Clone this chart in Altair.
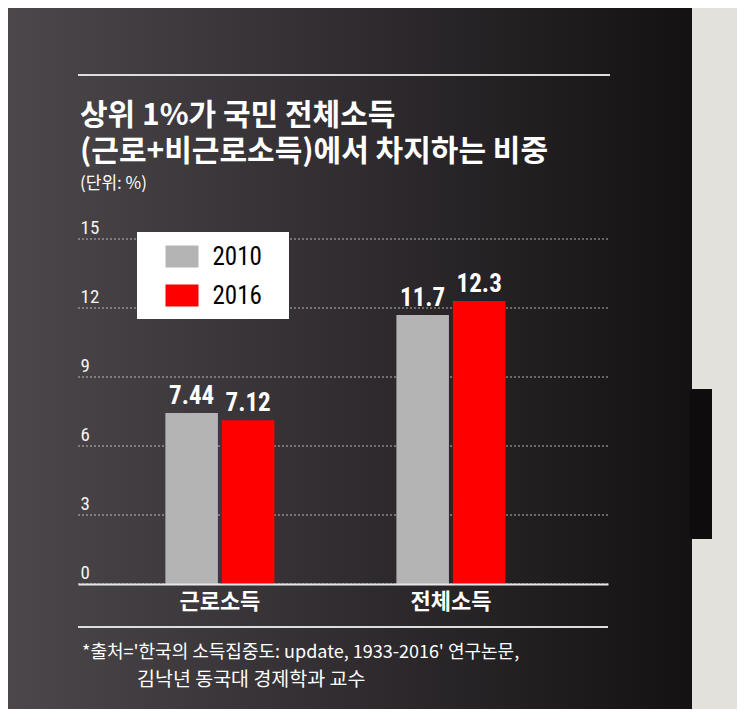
import altair as alt
import pandas as pd

# ---- data ----
categories = ["근로소득", "전체소득"]
years = ["2010", "2016"]
values_2010 = [7.44, 11.7]
values_2016 = [7.12, 12.3]
labels_2010 = ["7.44", "11.7"]
labels_2016 = ["7.12", "12.3"]
y_ticks = [0, 3, 6, 9, 12, 15]

title_lines = ["상위 1%가 국민 전체소득", "(근로+비근로소득)에서 차지하는 비중"]
unit_text = "(단위: %)"
source_line1 = "*출처='한국의 소득집중도: update, 1933-2016' 연구논문,"
source_line2 = "김낙년 동국대 경제학과 교수"

rows = []
for i, c in enumerate(categories):
    rows.append({"category": c, "year": years[0], "value": values_2010[i], "label": labels_2010[i]})
    rows.append({"category": c, "year": years[1], "value": values_2016[i], "label": labels_2016[i]})
df = pd.DataFrame(rows)
ticks_df = pd.DataFrame({"value": y_ticks})
one = pd.DataFrame({"a": [0]})

KR = "Noto Sans CJK KR"
NARROW = "Liberation Sans Narrow, Roboto Condensed, Noto Sans CJK KR, sans-serif"
W, H = 530, 345

yscale = alt.Scale(domain=[0, 15], nice=False)
yaxis = alt.Axis(title=None, values=y_ticks, grid=False, domain=False, ticks=False,
                 tickSize=0, labelAlign="left", labelPadding=-2, labelBaseline="bottom",
                 labelOffset=-2, labelFontSize=19, labelColor="#f4f4f4",
                 labelFont=NARROW, zindex=1)
xscale = alt.Scale(domain=categories, paddingInner=0.528, paddingOuter=0.411, align=0.46)
xoff_scale = alt.Scale(domain=years, paddingInner=0.07)

# ---- decorations ----
bg = alt.Chart(one).mark_rect(
    fill=alt.LinearGradient(
        gradient="linear", x1=0, x2=1, y1=0, y2=0,
        stops=[alt.GradientStop(color="#4c484b", offset=0),
               alt.GradientStop(color="#332f32", offset=0.45),
               alt.GradientStop(color="#141113", offset=1)]
    )
).encode(x=alt.value(-80), x2=alt.value(620), y=alt.value(-240), y2=alt.value(480))

light = alt.Chart(one).mark_rect(color="#e2e1dc").encode(
    x=alt.value(614), x2=alt.value(700), y=alt.value(-240), y2=alt.value(480))
bulge = alt.Chart(one).mark_rect(color="#0f0c0e").encode(
    x=alt.value(612), x2=alt.value(634), y=alt.value(150), y2=alt.value(300))

top_rule = alt.Chart(one).mark_rule(color="#dddddd", strokeWidth=2).encode(
    x=alt.value(0), x2=alt.value(532), y=alt.value(-164))
bottom_rule = alt.Chart(one).mark_rule(color="#dddddd", strokeWidth=2).encode(
    x=alt.value(0), x2=alt.value(W), y=alt.value(388))

grid = alt.Chart(ticks_df).mark_rule(color="#d0d0d0", strokeWidth=1, strokeDash=[2, 2], opacity=0.85).encode(
    y=alt.Y("value:Q", scale=yscale, axis=yaxis),
    x=alt.value(0), x2=alt.value(W))

legend_box = alt.Chart(one).mark_rect(color="white").encode(
    x=alt.value(59), x2=alt.value(211), y=alt.value(-7), y2=alt.value(80))

# ---- bars ----
base = alt.Chart(df).encode(
    x=alt.X("category:N", scale=xscale, sort=categories,
            axis=alt.Axis(title=None, labelAngle=0, domain=True, domainColor="#e8e8e8",
                          domainWidth=2, ticks=False, labelFontSize=22, labelFontWeight="bold",
                          labelColor="white", labelFont=KR, labelPadding=7, zindex=1)),
    xOffset=alt.XOffset("year:N", scale=xoff_scale, sort=years),
    y=alt.Y("value:Q", scale=yscale, axis=yaxis),
)

bars = base.mark_bar().encode(
    color=alt.Color("year:N", scale=alt.Scale(domain=years, range=["#b4b4b4", "#ff0000"]),
                    legend=alt.Legend(title=None, orient="none", legendX=59, legendY=-7,
                                      direction="vertical", padding=12, rowPadding=13,
                                      symbolType="M-1.5,-1L1.5,-1L1.5,1L-1.5,1Z",
                                      symbolSize=484, symbolStrokeWidth=0, symbolOffset=20.5,
                                      labelOffset=18, labelFontSize=25, labelColor="black",
                                      labelFont=NARROW, zindex=1))
)

value_text = base.mark_text(dy=-4, baseline="bottom", fontSize=25, color="white",
                            font=NARROW, fontWeight="bold").encode(text="label:N")

# ---- texts ----
def txt(s, x, y, size, weight="normal"):
    return alt.Chart(pd.DataFrame({"t": [s]})).mark_text(
        align="left", baseline="middle", fontSize=size, fontWeight=weight,
        color="white", font=KR).encode(x=alt.value(x), y=alt.value(y), text="t")

title = alt.Chart(pd.DataFrame({"k": [0]})).mark_text(
    align="left", baseline="alphabetic", fontSize=30, fontWeight="bold",
    color="white", font=KR, lineHeight=36
).encode(x=alt.value(2), y=alt.value(-114), text=alt.value(title_lines))

t3 = txt(unit_text, 2, -55, 17)
s1 = txt(source_line1, 4, 414, 18)
s2 = txt(source_line2, 59, 441, 19.5)

chart = alt.layer(
    bg, light, bulge, top_rule, bottom_rule, grid, legend_box,
    bars, value_text, title, t3, s1, s2
).properties(
    width=W, height=H,
    autosize=alt.AutoSizeParams(type="none"),
    padding={"left": 70, "top": 231, "right": 129, "bottom": 125},
    background="#2b2729",
).configure_view(stroke=None)

chart.save("out.html", embed_options={"renderer": "svg", "actions": False})
